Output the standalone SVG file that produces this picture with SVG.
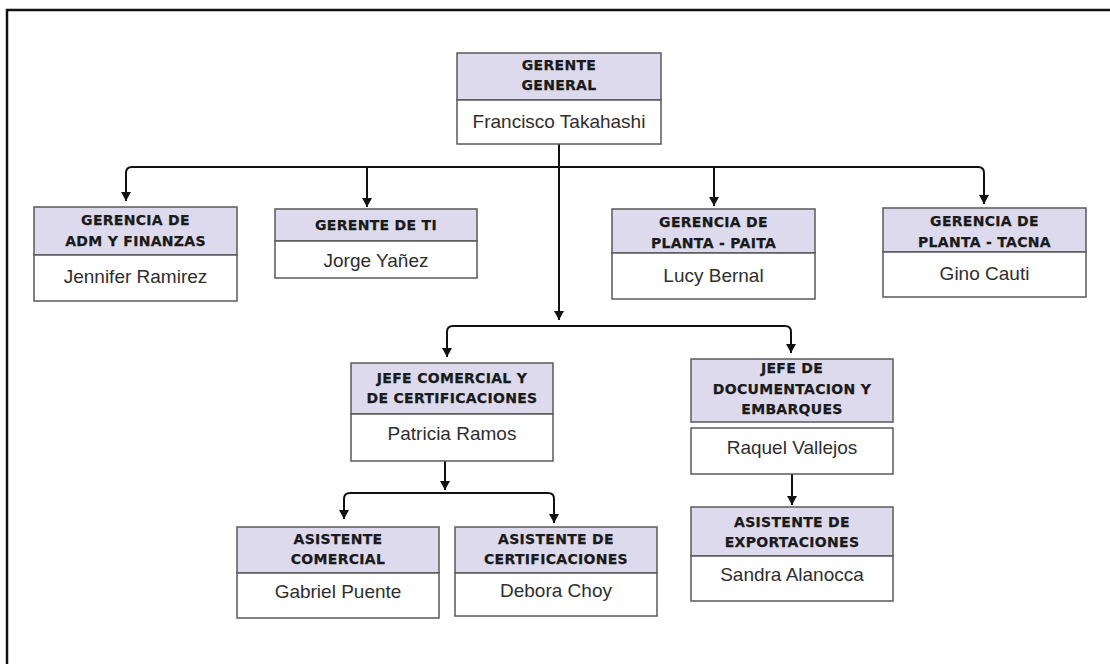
<svg xmlns="http://www.w3.org/2000/svg" width="1110" height="664" viewBox="0 0 1110 664">
<style>
.hd{fill:#dcdaec;stroke:#5a5a5a;stroke-width:1.5}
.nm{fill:#ffffff;stroke:#5a5a5a;stroke-width:1.5}
.ht{font-family:"DejaVu Sans",sans-serif;font-weight:bold;font-size:14px;fill:#1a1a1a;text-anchor:middle;letter-spacing:0.3px;stroke:#1a1a1a;stroke-width:0.25}
.nt{font-family:"Liberation Sans",Arial,sans-serif;font-size:19px;fill:#2e2e2e;text-anchor:middle}
.cn{fill:none;stroke:#111;stroke-width:2;marker-end:url(#ah)}
.ln{fill:none;stroke:#111;stroke-width:2}
</style>
<defs>
<marker id="ah" markerUnits="userSpaceOnUse" markerWidth="11" markerHeight="11" refX="9" refY="5" orient="auto">
<path d="M0,0 L9,5 L0,10 z" fill="#111"/>
</marker>
</defs>
<rect x="0" y="0" width="1110" height="664" fill="#ffffff"/>
<rect x="7" y="10" width="1120" height="680" fill="#ffffff" stroke="#111" stroke-width="2.5"/>

<g id="connectors">
<path class="ln" d="M559,144 L559,312"/>
<path class="cn" d="M559,300 L559,320"/>
<path class="cn" d="M559,167 L132,167 Q126,167 126,173 L126,201"/>
<path class="cn" d="M367,167 L367,207"/>
<path class="cn" d="M714,167 L714,206"/>
<path class="cn" d="M559,167 L978,167 Q984,167 984,173 L984,204"/>
<path class="cn" d="M559,326 L453,326 Q447,326 447,332 L447,357"/>
<path class="cn" d="M559,326 L785,326 Q791,326 791,332 L791,353"/>
<path class="cn" d="M445,461 L445,490"/>
<path class="cn" d="M445,493 L350,493 Q344,493 344,499 L344,519"/>
<path class="cn" d="M445,493 L548,493 Q554,493 554,499 L554,523"/>
<path class="cn" d="M792,474 L792,505"/>
</g>

<g id="gerente-general">
<rect class="hd" x="457" y="53" width="204" height="47"/>
<rect class="nm" x="457" y="100" width="204" height="44"/>
<text class="ht" x="559" y="70">GERENTE</text>
<text class="ht" x="559" y="90">GENERAL</text>
<text class="nt" x="559" y="128">Francisco Takahashi</text>
</g>

<g id="gerencia-adm">
<rect class="hd" x="34" y="207" width="203" height="48"/>
<rect class="nm" x="34" y="255" width="203" height="46"/>
<text class="ht" x="135.5" y="225">GERENCIA DE</text>
<text class="ht" x="135.5" y="246">ADM Y FINANZAS</text>
<text class="nt" x="135.5" y="283">Jennifer Ramirez</text>
</g>

<g id="gerente-ti">
<rect class="hd" x="275" y="209" width="202" height="32"/>
<rect class="nm" x="275" y="241" width="202" height="37"/>
<text class="ht" x="376" y="230">GERENTE DE TI</text>
<text class="nt" x="376" y="267">Jorge Yañez</text>
</g>

<g id="gerencia-paita">
<rect class="hd" x="612" y="209" width="203" height="44"/>
<rect class="nm" x="612" y="253" width="203" height="46"/>
<text class="ht" x="713.5" y="227">GERENCIA DE</text>
<text class="ht" x="713.5" y="248">PLANTA - PAITA</text>
<text class="nt" x="713.5" y="282">Lucy Bernal</text>
</g>

<g id="gerencia-tacna">
<rect class="hd" x="883" y="208" width="203" height="44"/>
<rect class="nm" x="883" y="252" width="203" height="45"/>
<text class="ht" x="984.5" y="226">GERENCIA DE</text>
<text class="ht" x="984.5" y="247">PLANTA - TACNA</text>
<text class="nt" x="984.5" y="280">Gino Cauti</text>
</g>

<g id="jefe-comercial">
<rect class="hd" x="351" y="363" width="202" height="51"/>
<rect class="nm" x="351" y="414" width="202" height="47"/>
<text class="ht" x="452" y="383">JEFE COMERCIAL Y</text>
<text class="ht" x="452" y="403">DE CERTIFICACIONES</text>
<text class="nt" x="452" y="440">Patricia Ramos</text>
</g>

<g id="jefe-documentacion">
<rect class="hd" x="691" y="359" width="202" height="63"/>
<rect class="nm" x="691" y="428" width="202" height="46"/>
<text class="ht" x="792" y="373">JEFE DE</text>
<text class="ht" x="792" y="394">DOCUMENTACION Y</text>
<text class="ht" x="792" y="414">EMBARQUES</text>
<text class="nt" x="792" y="454">Raquel Vallejos</text>
</g>

<g id="asistente-comercial">
<rect class="hd" x="237" y="527" width="202" height="46"/>
<rect class="nm" x="237" y="573" width="202" height="45"/>
<text class="ht" x="338" y="544">ASISTENTE</text>
<text class="ht" x="338" y="564">COMERCIAL</text>
<text class="nt" x="338" y="598">Gabriel Puente</text>
</g>

<g id="asistente-certificaciones">
<rect class="hd" x="455" y="527" width="202" height="46"/>
<rect class="nm" x="455" y="573" width="202" height="43"/>
<text class="ht" x="556" y="544">ASISTENTE DE</text>
<text class="ht" x="556" y="564">CERTIFICACIONES</text>
<text class="nt" x="556" y="597">Debora Choy</text>
</g>

<g id="asistente-exportaciones">
<rect class="hd" x="691" y="507" width="202" height="49"/>
<rect class="nm" x="691" y="556" width="202" height="45"/>
<text class="ht" x="792" y="527">ASISTENTE DE</text>
<text class="ht" x="792" y="547">EXPORTACIONES</text>
<text class="nt" x="792" y="581">Sandra Alanocca</text>
</g>
</svg>
